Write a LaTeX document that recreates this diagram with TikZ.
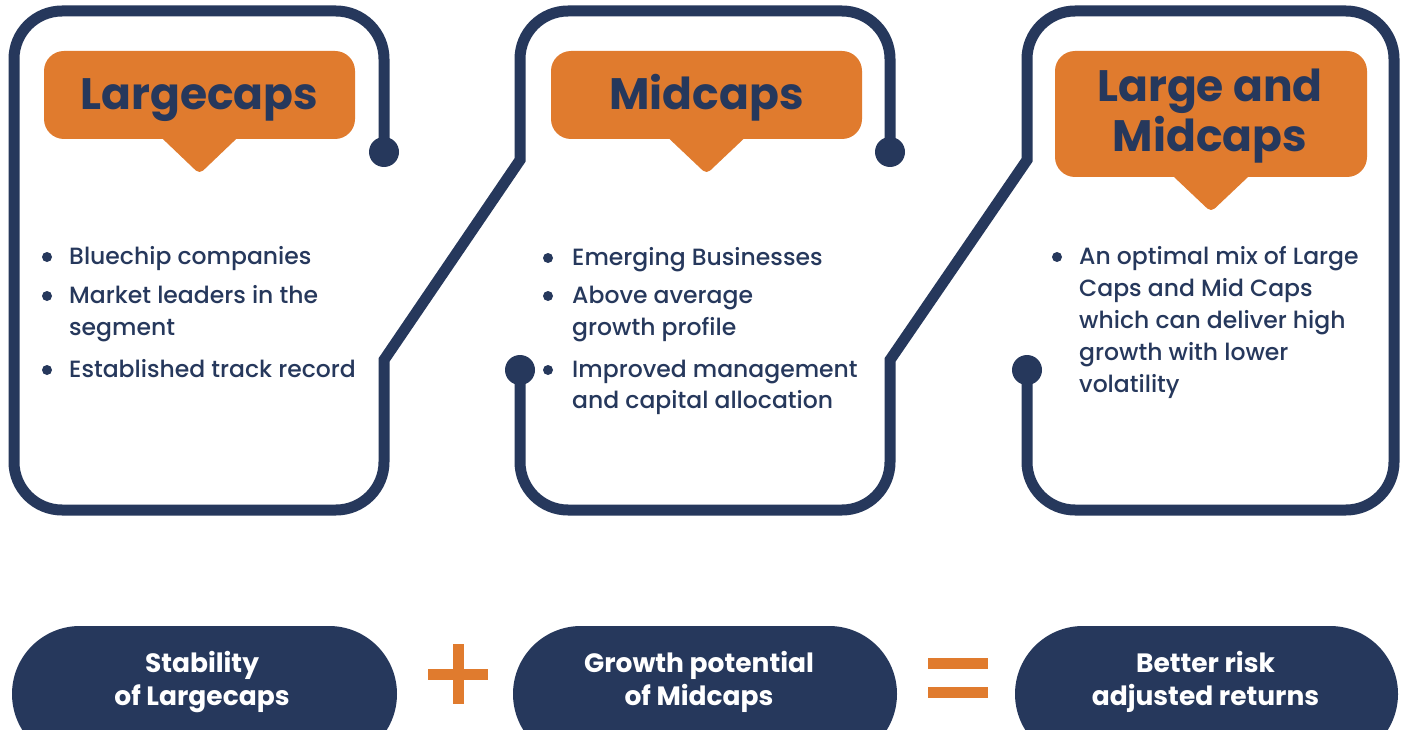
\documentclass[tikz,border=0pt]{standalone}
\usepackage{fontspec}
\setmainfont{Poppins}
\newfontfamily\bodyf{Poppins Medium}
\definecolor{navy}{HTML}{26385C}
\definecolor{orng}{HTML}{E07B2E}
\begin{document}
\begin{tikzpicture}[x=1pt,y=-1pt,
  track/.style={draw=navy,line width=11pt,line join=miter},
  dotn/.style={circle,fill=navy,minimum size=30pt,inner sep=0pt},
  bul/.style={circle,fill=navy,minimum size=10pt,inner sep=0pt},
  callbox/.style={fill=orng,rounded corners=20pt,inner sep=0pt},
  head/.style={anchor=base,text=navy,inner sep=0pt,font=\bfseries\fontsize{44}{50}\selectfont},
  item/.style={anchor=base west,text=navy,inner sep=0pt,font=\bodyf\fontsize{23.5}{32}\selectfont},
  pill/.style={fill=navy,rounded corners=68pt},
  pilltext/.style={anchor=base,text=white,inner sep=0pt,font=\bfseries\fontsize{26.5}{33}\selectfont},
  sign/.style={fill=orng}
]
\useasboundingbox (0,0) rectangle (1405,730);
\clip (0,0) rectangle (1405,730);
\fill[white] (0,0) rectangle (1405,730);

% end dots
\node[dotn] (d1) at (384,152) {};
\node[dotn] (d2) at (890,152) {};
\node[dotn] (d3) at (520,370) {};
\node[dotn] (d4) at (1027,370) {};

% track A: box 1 and top of box 2
\draw[track] (d1.center) -- (384,59) .. controls (384,32.5) and (362.5,11) .. (336,11)
  -- (62,11) .. controls (35.5,11) and (14,32.5) .. (14,59)
  -- (14,462) .. controls (14,488.5) and (35.5,510) .. (62,510)
  -- (336,510) .. controls (362.5,510) and (384,488.5) .. (384,462)
  -- (384,360) -- (520,160)
  -- (520,59) .. controls (520,32.5) and (541.5,11) .. (568,11)
  -- (842,11) .. controls (868.5,11) and (890,32.5) .. (890,59)
  -- (d2.center);

% track B: bottom of box 2 and box 3
\draw[track] (d3.center) -- (520,462) .. controls (520,488.5) and (541.5,510) .. (568,510)
  -- (842,510) .. controls (868.5,510) and (890,488.5) .. (890,462)
  -- (890,360) -- (1027,160)
  -- (1027,59) .. controls (1027,32.5) and (1048.5,11) .. (1075,11)
  -- (1346,11) .. controls (1372.5,11) and (1394,32.5) .. (1394,59)
  -- (1394,462) .. controls (1394,488.5) and (1372.5,510) .. (1346,510)
  -- (1075,510) .. controls (1048.5,510) and (1027,488.5) .. (1027,462)
  -- (d4.center);

% callouts
\node[callbox,minimum width=311pt,minimum height=88pt] (c1) at (199.5,95) {};
\fill[orng,rounded corners=5pt] (148.2,125) -- (199.5,174) -- (250.8,125) -- cycle;
\node[head] (t1) at (199.5,110) {Largecaps};

\node[callbox,minimum width=311pt,minimum height=88pt] (c2) at (706.5,95) {};
\fill[orng,rounded corners=5pt] (654.7,125) -- (706.5,174) -- (758.3,125) -- cycle;
\node[head] (t2) at (706.5,110) {Midcaps};

\node[callbox,minimum width=312pt,minimum height=126pt] (c3) at (1211,114) {};
\fill[orng,rounded corners=5pt] (1159.2,163) -- (1211,212) -- (1262.8,163) -- cycle;
\node[head] (t3a) at (1210,102) {Large and};
\node[head] (t3b) at (1210,152) {Midcaps};

% box 1 bullets
\node[bul] (b11) at (47,257) {};
\node[bul] (b12) at (47,296) {};
\node[bul] (b13) at (47,370) {};
\node[item] (l11) at (69,264) {Bluechip companies};
\node[item] (l12) at (69,303) {Market leaders in the};
\node[item] (l13) at (69,335) {segment};
\node[item] (l14) at (69,377) {Established track record};

% box 2 bullets
\node[bul] (b21) at (548,258) {};
\node[bul] (b22) at (548,296) {};
\node[bul] (b23) at (548,370) {};
\node[item] (l21) at (572,265) {Emerging Businesses};
\node[item] (l22) at (572,303) {Above average};
\node[item] (l23) at (572,335) {growth profile};
\node[item] (l24) at (572,377) {Improved management};
\node[item] (l25) at (572,408) {and capital allocation};

% box 3 bullets
\node[bul] (b31) at (1057,257) {};
\node[item] (l31) at (1079,264) {An optimal mix of Large};
\node[item] (l32) at (1079,296) {Caps and Mid Caps};
\node[item] (l33) at (1079,328) {which can deliver high};
\node[item] (l34) at (1079,360) {growth with lower};
\node[item] (l35) at (1079,392) {volatility};

% bottom pills
\fill[pill] (12,626) rectangle (397,762);
\fill[pill] (513,626) rectangle (897,762);
\fill[pill] (1015,626) rectangle (1398,762);
\node[pilltext] (p1a) at (202,672) {Stability};
\node[pilltext] (p1b) at (202,705) {of Largecaps};
\node[pilltext] (p2a) at (699,672) {Growth potential};
\node[pilltext] (p2b) at (699,705) {of Midcaps};
\node[pilltext] (p3a) at (1205.5,672) {Better risk};
\node[pilltext] (p3b) at (1205.5,705) {adjusted returns};

% plus and equals
\fill[sign] (428,668.5) rectangle (488,679.5);
\fill[sign] (452.5,644) rectangle (463.5,704);
\fill[sign] (928,658) rectangle (988,669);
\fill[sign] (928,687) rectangle (988,698);
\end{tikzpicture}
\end{document}
